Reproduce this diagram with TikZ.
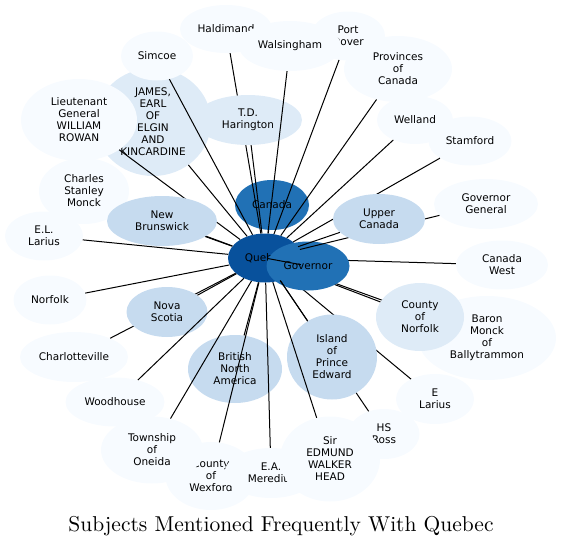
\documentclass[tikz,border=0pt]{standalone}
\usepackage{fontspec}
\newfontfamily\nodefont{DejaVu Sans}
\newfontfamily\titlefont[Extension=.otf]{lmroman10-regular}
\usetikzlibrary{shapes.geometric}
\definecolor{cA}{HTML}{08519C}
\definecolor{cB}{HTML}{2171B5}
\definecolor{cC}{HTML}{C6DBEF}
\definecolor{cD}{HTML}{DEEBF7}
\definecolor{cE}{HTML}{F7FBFF}
\tikzset{
  gv/.style={ellipse, draw=none, inner sep=0pt, align=center, text=black,
    font=\nodefont\fontsize{10.5}{12}\selectfont},
  link/.style={draw=black, line width=1pt}
}
\newcommand{\gvn}[7]{%
  \node[gv, fill=#2, minimum width=#5pt, minimum height=#6pt] (#1) at (#3,#4) {#7};
  \draw[link] (#1) -- (q);}
\begin{document}
\begin{tikzpicture}[x=1pt,y=-1pt]
\useasboundingbox (0,0) rectangle (562,546);
\node[gv, fill=cA, minimum width=74pt, minimum height=49pt] (q) at (265,258) {Quebec};
\gvn{baron}{cE}{487}{338}{138}{84}{Baron\\Monck\\of\\Ballytrammon}
\gvn{bna}{cC}{235}{369}{94}{68}{British\\North\\America}
\gvn{canada}{cB}{272}{205}{74}{50}{Canada}
\gvn{cwest}{cE}{502}{265}{92}{49}{Canada\\West}
\gvn{csm}{cE}{84}{191}{90}{66}{Charles\\Stanley\\Monck}
\gvn{charl}{cE}{74}{357}{108}{50}{Charlotteville}
\gvn{conorf}{cD}{420}{317}{88}{68}{County\\of\\Norfolk}
\gvn{cowex}{cE}{211}{476}{91}{68}{County\\of\\Wexford}
\gvn{elar}{cE}{435}{399}{78}{50}{E\\Larius}
\gvn{mered}{cE}{271}{473}{93}{50}{E.A.\\Meredith}
\gvn{ellar}{cE}{44}{236}{78}{49}{E.L.\\Larius}
\gvn{gov}{cB}{308}{266}{83}{49}{Governor}
\gvn{govgen}{cE}{486}{204}{104}{50}{Governor\\General}
\gvn{hsross}{cE}{384}{434}{71}{50}{HS\\Ross}
\gvn{haldi}{cE}{226}{29}{92}{48}{Haldimand}
\gvn{ipe}{cC}{332}{357}{90}{85}{Island\\of\\Prince\\Edward}
\gvn{james}{cD}{153}{122}{116}{108}{JAMES,\\EARL\\OF\\ELGIN\\AND\\KINCARDINE}
\gvn{rowan}{cE}{79}{120}{116}{82}{Lieutenant\\General\\WILLIAM\\ROWAN}
\gvn{newb}{cC}{162}{221}{110}{50}{New\\Brunswick}
\gvn{norf}{cE}{50}{300}{73}{49}{Norfolk}
\gvn{novas}{cC}{167}{312}{81}{50}{Nova\\Scotia}
\gvn{pdover}{cE}{348}{36}{74}{49}{Port\\Dover}
\gvn{provc}{cE}{398}{69}{108}{66}{Provinces\\of\\Canada}
\gvn{simcoe}{cE}{157}{56}{72}{49}{Simcoe}
\gvn{sewh}{cE}{330}{459}{100}{85}{Sir\\EDMUND\\WALKER\\HEAD}
\gvn{stam}{cE}{470}{141}{83}{49}{Stamford}
\gvn{tdh}{cD}{248}{120}{108}{50}{T.D.\\Harington}
\gvn{oneida}{cE}{152}{450}{102}{67}{Township\\of\\Oneida}
\gvn{upperc}{cC}{379}{219}{92}{50}{Upper\\Canada}
\gvn{walsi}{cE}{290}{46}{102}{50}{Walsingham}
\gvn{wella}{cE}{415}{120}{76}{48}{Welland}
\gvn{woodh}{cE}{115}{402}{99}{49}{Woodhouse}
\node[font=\titlefont\fontsize{21.5}{25}\selectfont, anchor=base, inner sep=0pt] (title) at (281,531) {Subjects Mentioned Frequently With Quebec};
\end{tikzpicture}
\end{document}
